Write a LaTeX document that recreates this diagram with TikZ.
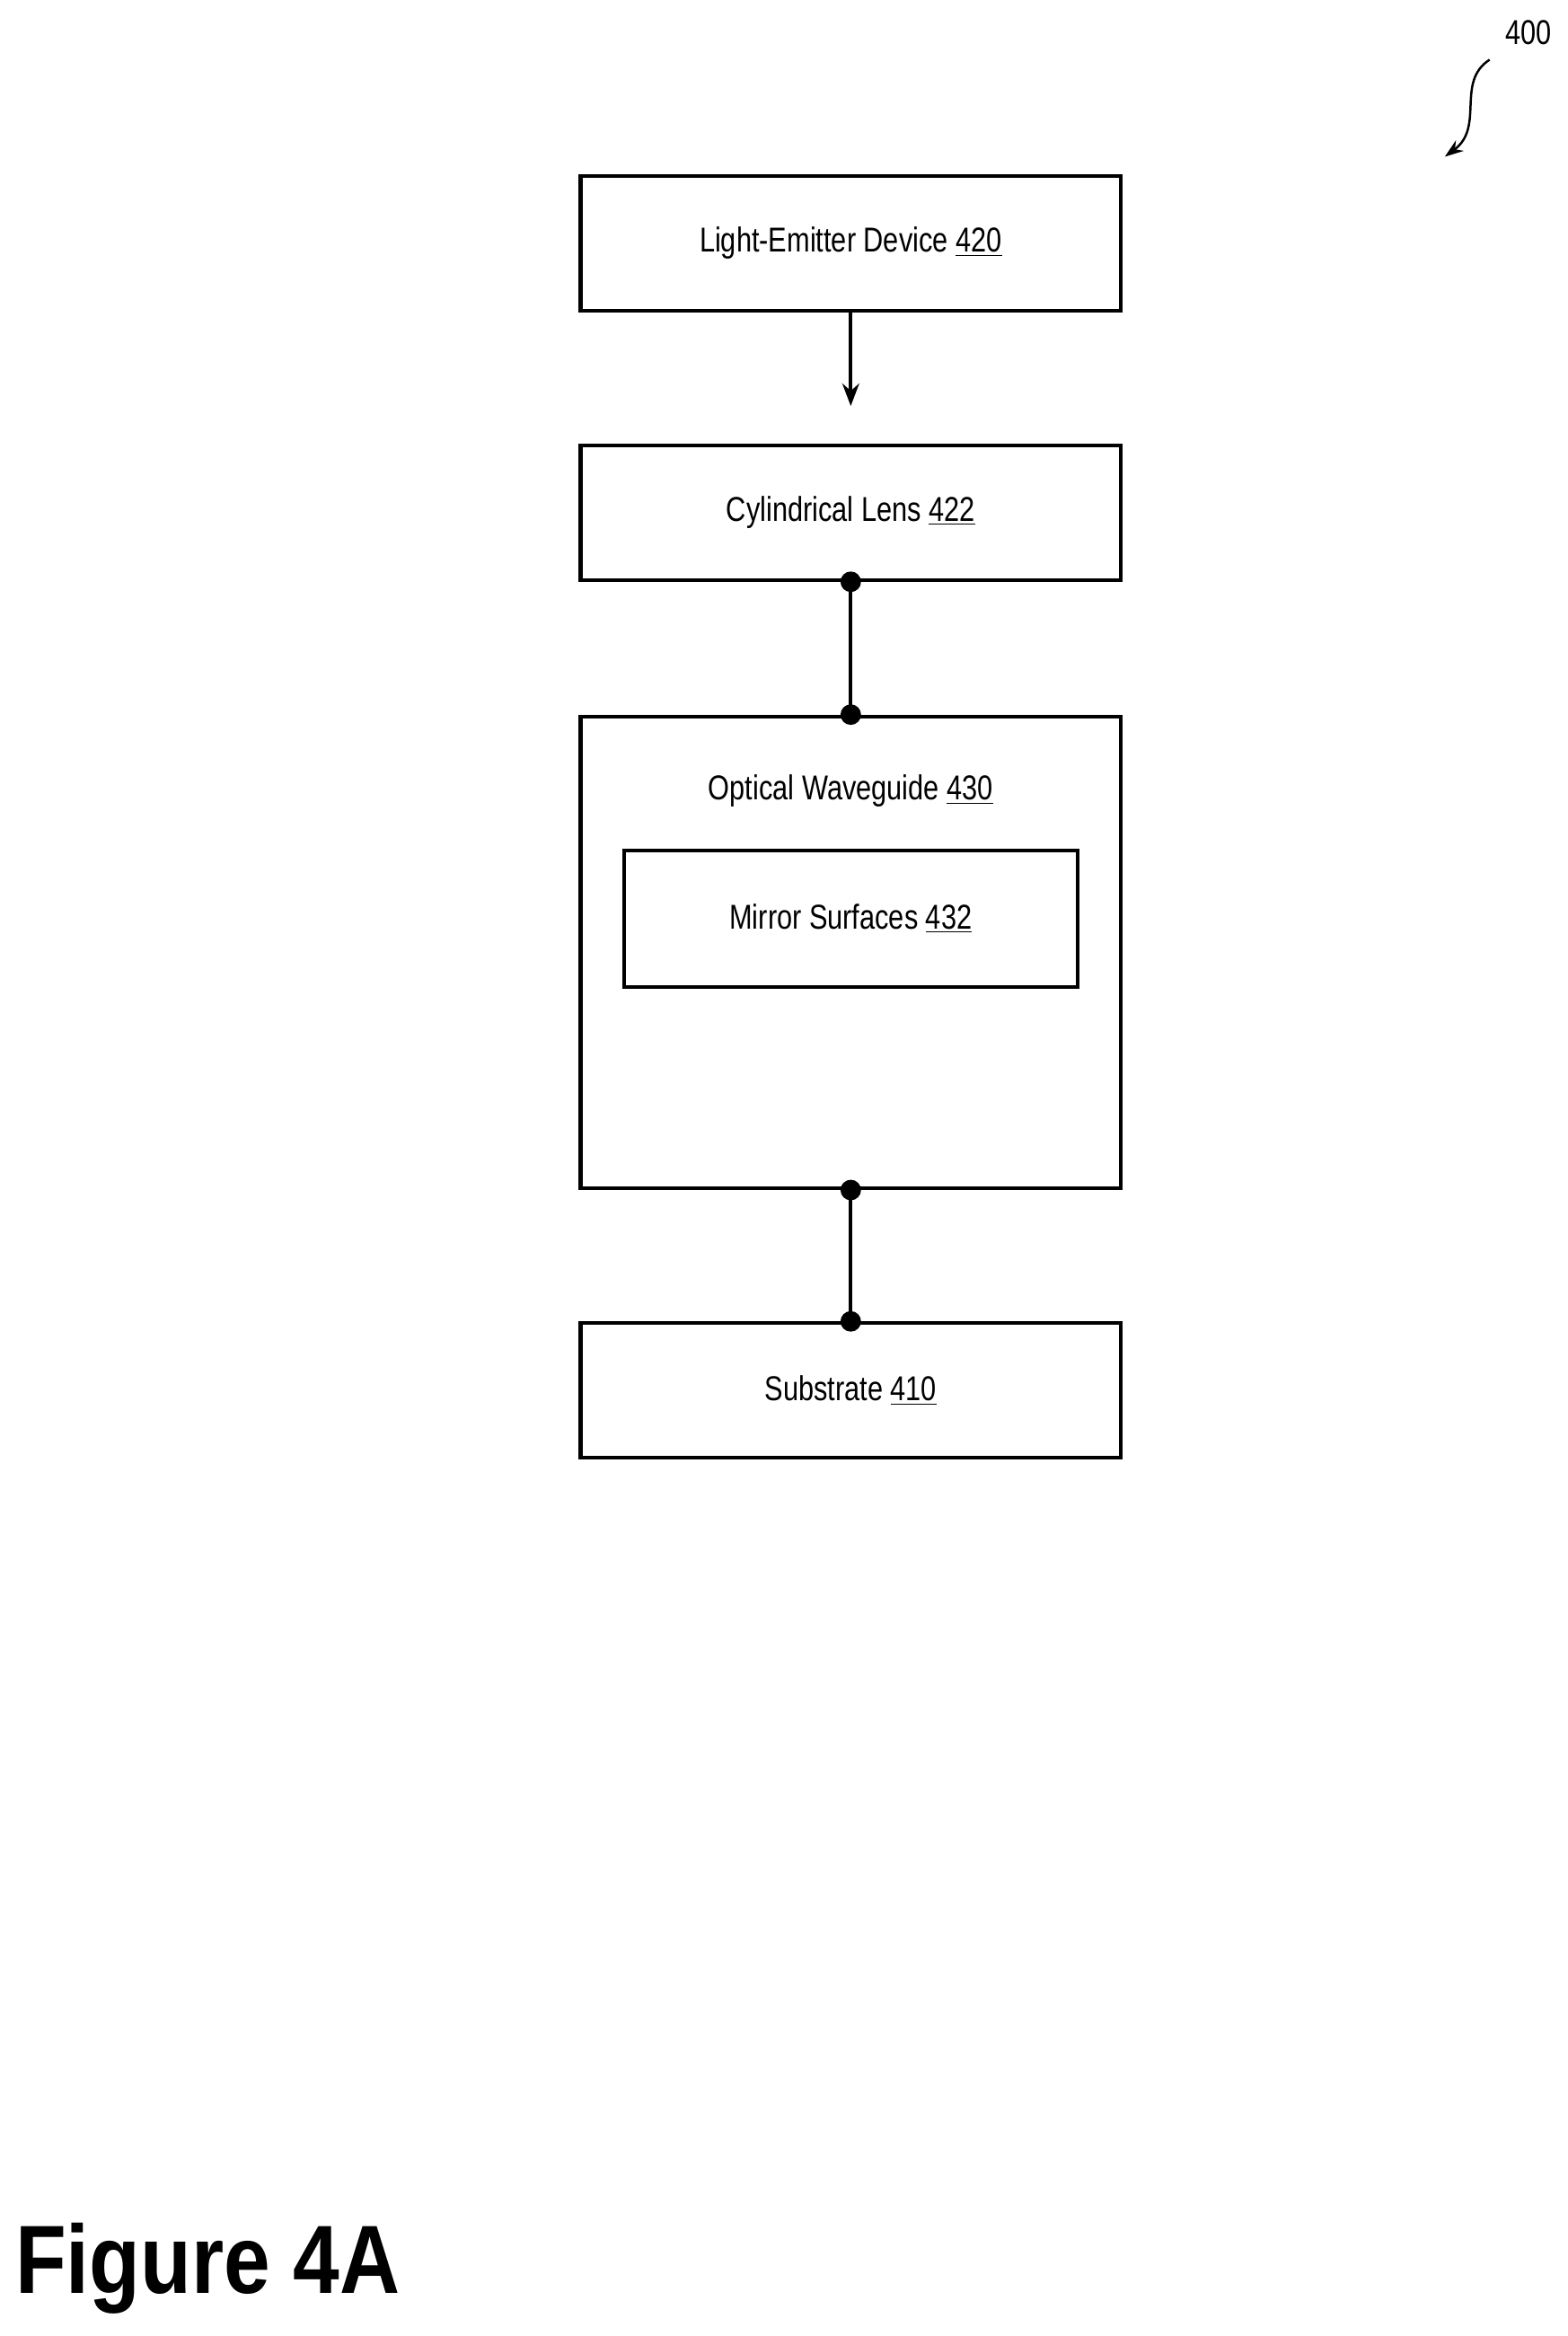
\documentclass[tikz,border=0pt]{standalone}
\usepackage{fontspec}
\usetikzlibrary{arrows.meta}
\setmainfont{Liberation Sans}
\newfontfamily\narrowf[FakeStretch=0.8]{Liberation Sans}
\newfontfamily\figf[FakeStretch=0.86]{Liberation Sans}
\begin{document}
\begin{tikzpicture}[x=0.8pt,y=-0.8pt,
 box/.style={draw,line width=2pt,minimum width=362*0.8pt,minimum height=90*0.8pt,inner sep=0,font=\narrowf\fontsize{18.5}{22}\selectfont},
 dot/.style={circle,fill,inner sep=0,minimum size=11pt},
 lbl/.style={font=\narrowf\fontsize{18.5}{22}\selectfont}]
\useasboundingbox (0,0) rectangle (1050,1565);
\node[box] (led) at (570,163) {Light-Emitter Device \underline{420}};
\node[box] (cyl) at (570,343.5) {Cylindrical Lens \underline{422}};
\node[box,minimum height=316*0.8pt] (owg) at (570,638) {};
\node[lbl] (owgl) at (570,530) {Optical Waveguide \underline{430}};
\node[box,minimum width=304*0.8pt,minimum height=91*0.8pt] (mir) at (570,615.5) {Mirror Surfaces \underline{432}};
\node[box] (sub) at (570,931.5) {Substrate \underline{410}};
\coordinate (ah) at (570,272);
\draw[line width=2pt,-{Stealth[length=12pt,width=9pt]}] (led.south) -- (ah);
\draw[line width=2pt] (cyl.south) -- (owg.north);
\node[dot] at (cyl.south) {}; \node[dot] at (owg.north) {};
\draw[line width=2pt] (owg.south) -- (sub.north);
\node[dot] at (owg.south) {}; \node[dot] at (sub.north) {};
\node[lbl] (ref) at (1024,22) {400};
\coordinate (rs) at (998,40);
\coordinate (re) at (968,105);
\draw[line width=1.2pt,-{Stealth[length=10pt,width=7pt]}] (rs) .. controls (975,55) and (995,85) .. (re);
\node[anchor=west,inner sep=0,font=\figf\bfseries\fontsize{52}{60}\selectfont] (fig) at (10,1520) {Figure 4A};
\end{tikzpicture}
\end{document}
